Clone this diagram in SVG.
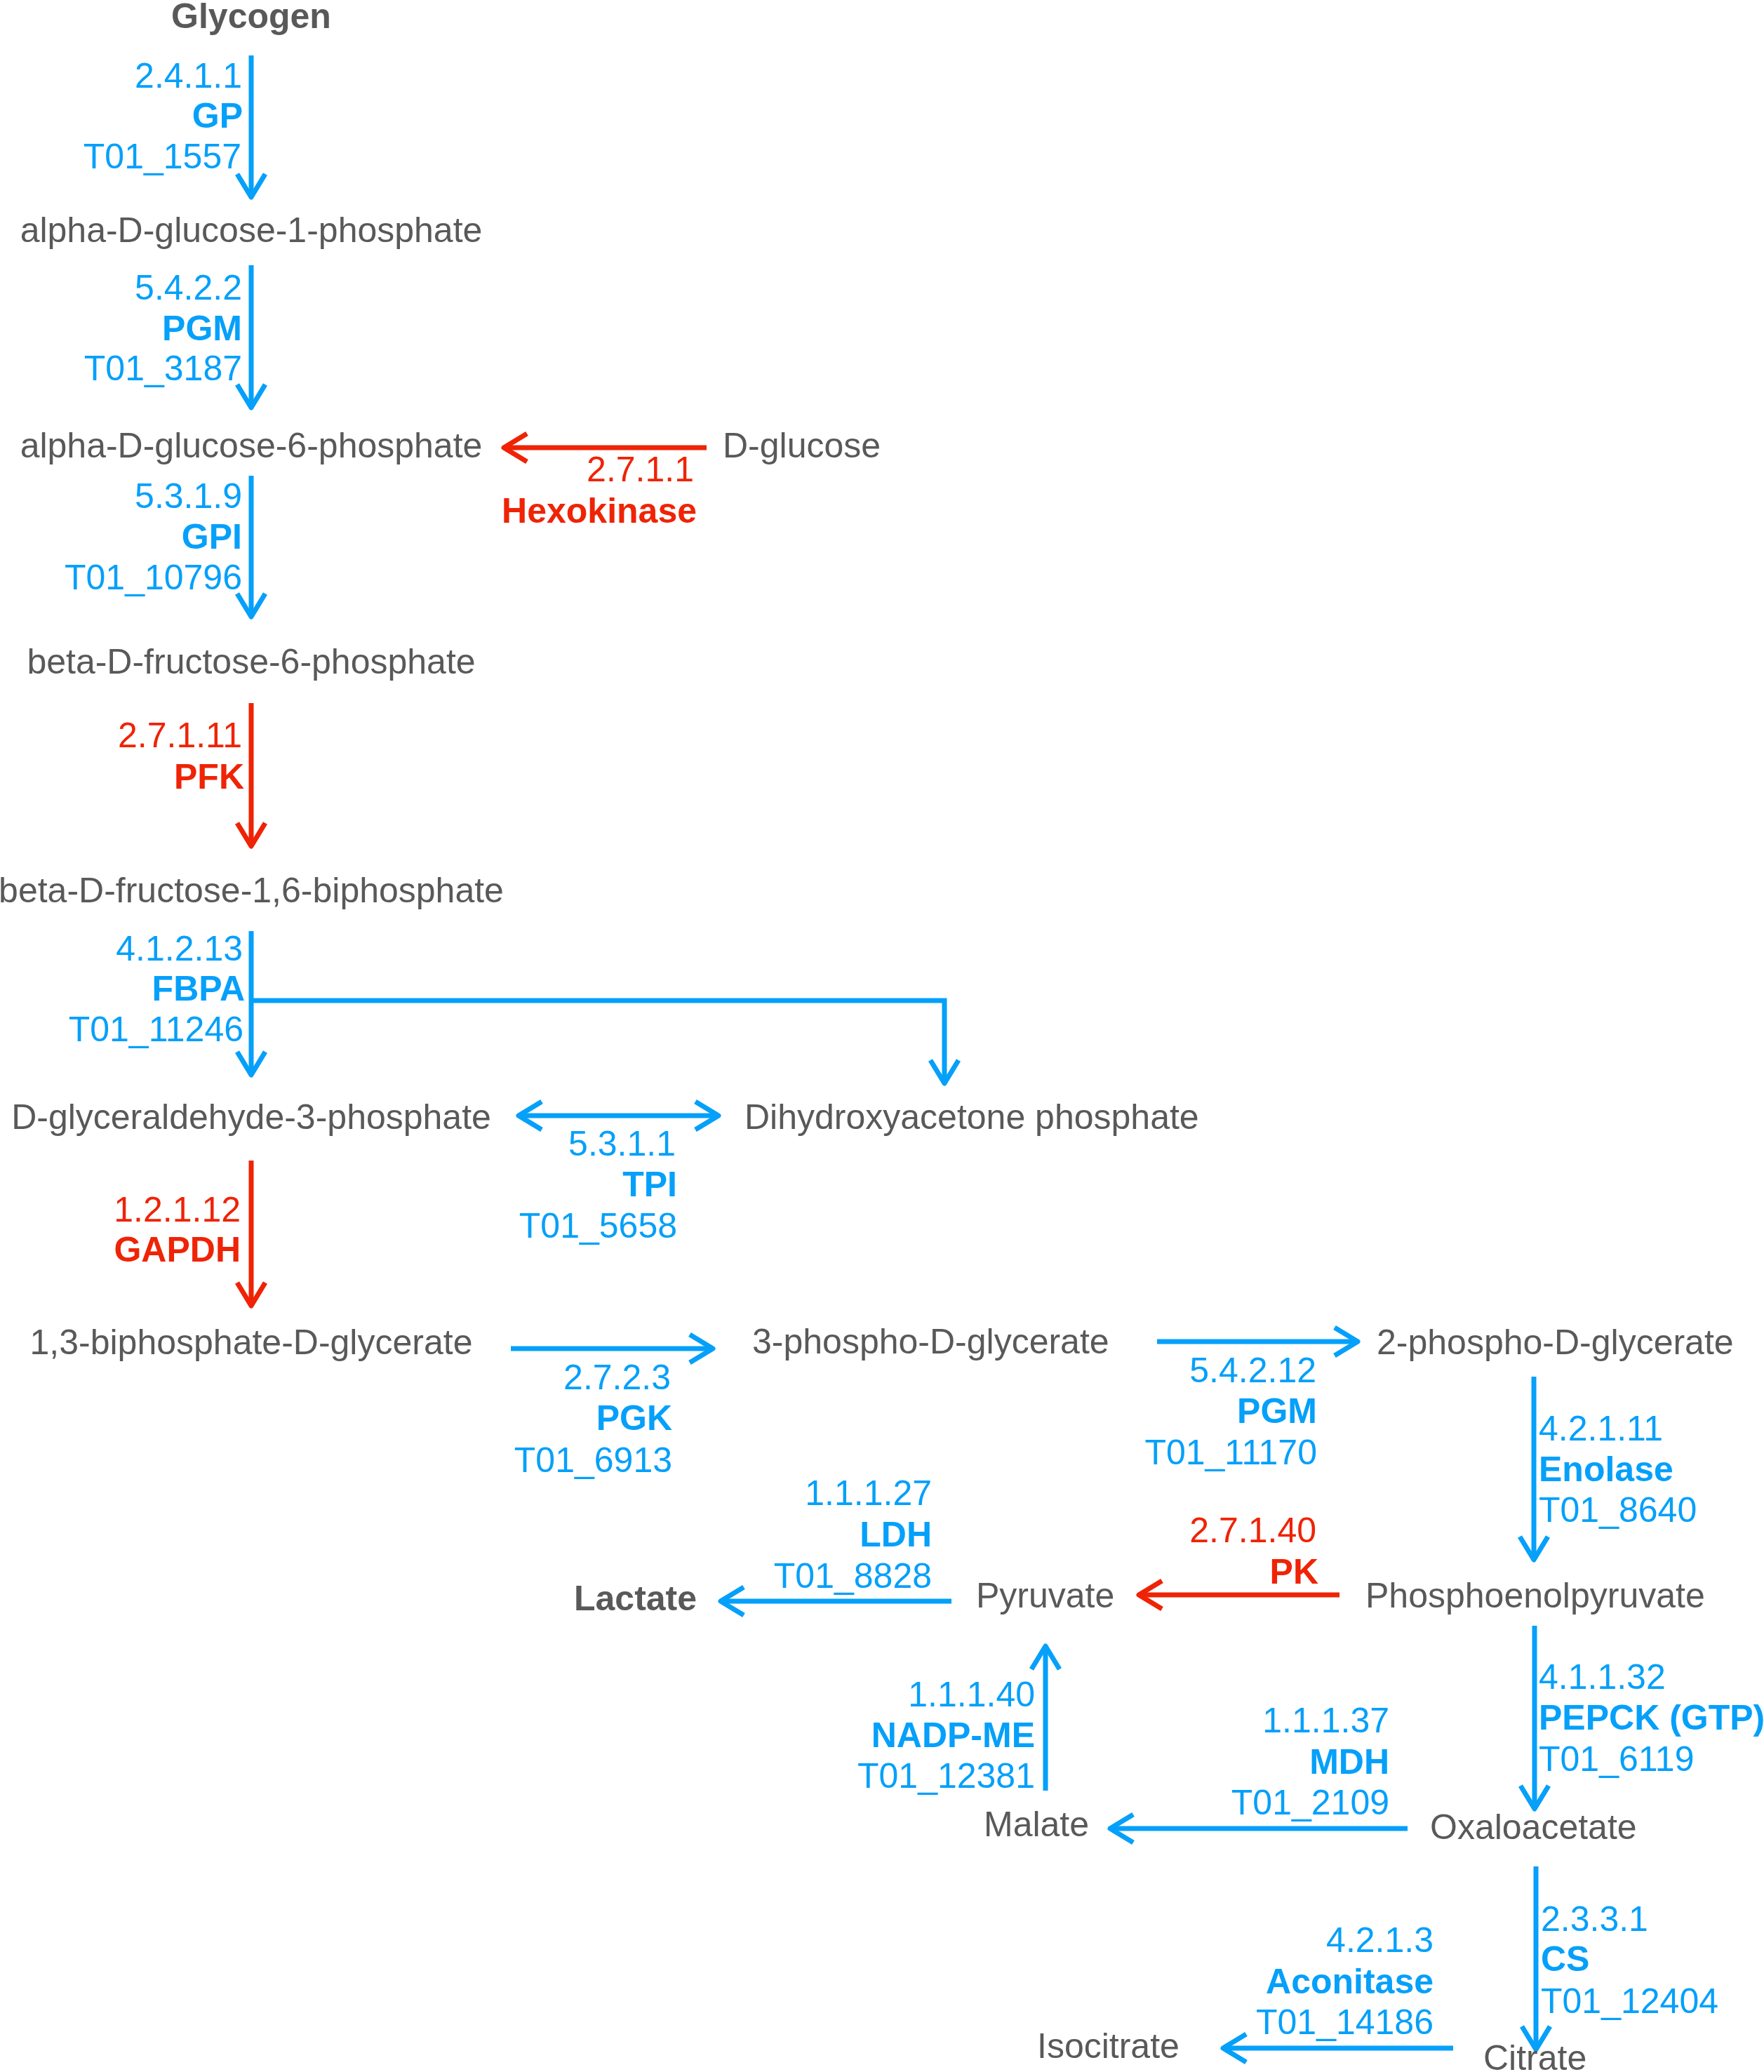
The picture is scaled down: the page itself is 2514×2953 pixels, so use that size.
<svg xmlns="http://www.w3.org/2000/svg" width="2514" height="2953" viewBox="0 0 2514 2953">
<style>
text{font-family:"Liberation Sans",Arial,sans-serif;font-size:50px}
.m{fill:#595959}
.b{fill:#05a0fa}
.r{fill:#ef2305}
.bd{font-weight:bold}
.e{text-anchor:end}
.c{text-anchor:middle}
.lb{fill:none;stroke:#05a0fa;stroke-width:7}
.lr{fill:none;stroke:#ef2305;stroke-width:7}
</style>
<defs>
<marker id="ab" markerUnits="userSpaceOnUse" viewBox="-45 -30 55 60" refX="0" refY="0" markerWidth="55" markerHeight="60" orient="auto-start-reverse">
<path d="M-33,-20 L0,0 L-33,20" fill="none" stroke="#05a0fa" stroke-width="7" stroke-linejoin="round"/>
</marker>
<marker id="ar" markerUnits="userSpaceOnUse" viewBox="-45 -30 55 60" refX="0" refY="0" markerWidth="55" markerHeight="60" orient="auto">
<path d="M-33,-20 L0,0 L-33,20" fill="none" stroke="#ef2305" stroke-width="7" stroke-linejoin="round"/>
</marker>
</defs>
<rect width="2514" height="2953" fill="#fff"/>
<g id="connectors">
<path class="lb" d="M358,79 V281" marker-end="url(#ab)"/>
<path class="lb" d="M358,378 V581" marker-end="url(#ab)"/>
<path class="lb" d="M358,678 V879" marker-end="url(#ab)"/>
<path class="lr" d="M358,1002 V1206" marker-end="url(#ar)"/>
<path class="lb" d="M358,1327 V1532" marker-end="url(#ab)"/>
<path class="lb" d="M358,1426 H1346 V1544" marker-end="url(#ab)"/>
<path class="lr" d="M1007,638 H718" marker-end="url(#ar)"/>
<path class="lb" d="M739,1590 H1024" marker-start="url(#ab)" marker-end="url(#ab)"/>
<path class="lr" d="M358,1654 V1861" marker-end="url(#ar)"/>
<path class="lb" d="M728,1922 H1016" marker-end="url(#ab)"/>
<path class="lb" d="M1649,1912 H1935" marker-end="url(#ab)"/>
<path class="lb" d="M2186,1962 V2223" marker-end="url(#ab)"/>
<path class="lr" d="M1909,2273 H1623" marker-end="url(#ar)"/>
<path class="lb" d="M1356,2282 H1027" marker-end="url(#ab)"/>
<path class="lb" d="M1490,2552 V2346" marker-end="url(#ab)"/>
<path class="lb" d="M2187,2317 V2578" marker-end="url(#ab)"/>
<path class="lb" d="M2006,2606 H1582" marker-end="url(#ab)"/>
<path class="lb" d="M2189,2660 V2921" marker-end="url(#ab)"/>
<path class="lb" d="M2071,2919 H1743" marker-end="url(#ab)"/>
</g>
<g id="glycogen"><text class="m bd c" x="358" y="40">Glycogen</text></g>
<g id="g1p"><text class="m c" x="358" y="345">alpha-D-glucose-1-phosphate</text></g>
<g id="g6p"><text class="m c" x="358" y="652">alpha-D-glucose-6-phosphate</text></g>
<g id="glucose"><text class="m" x="1030" y="652">D-glucose</text></g>
<g id="f6p"><text class="m c" x="358" y="960">beta-D-fructose-6-phosphate</text></g>
<g id="f16bp"><text class="m c" x="358" y="1286">beta-D-fructose-1,6-biphosphate</text></g>
<g id="gap"><text class="m c" x="358" y="1609">D-glyceraldehyde-3-phosphate</text></g>
<g id="dhap"><text class="m" x="1061" y="1609">Dihydroxyacetone phosphate</text></g>
<g id="bpg"><text class="m c" x="358" y="1930">1,3-biphosphate-D-glycerate</text></g>
<g id="pg3"><text class="m" x="1072" y="1929">3-phospho-D-glycerate</text></g>
<g id="pg2"><text class="m" x="1962" y="1930">2-phospho-D-glycerate</text></g>
<g id="pep"><text class="m" x="1946" y="2291">Phosphoenolpyruvate</text></g>
<g id="pyruvate"><text class="m" x="1391" y="2291">Pyruvate</text></g>
<g id="lactate"><text class="m bd" x="818" y="2295">Lactate</text></g>
<g id="malate"><text class="m" x="1402" y="2617">Malate</text></g>
<g id="oaa"><text class="m" x="2038" y="2621">Oxaloacetate</text></g>
<g id="citrate"><text class="m" x="2114" y="2950">Citrate</text></g>
<g id="isocitrate"><text class="m" x="1478" y="2933">Isocitrate</text></g>
<g id="lbl-gp"><text class="b e" x="345" y="125">2.4.1.1</text><text class="b e bd" x="346" y="182">GP</text><text class="b e" x="344" y="240">T01_1557</text></g>
<g id="lbl-pgm1"><text class="b e" x="345" y="427">5.4.2.2</text><text class="b e bd" x="345" y="485">PGM</text><text class="b e" x="345" y="542">T01_3187</text></g>
<g id="lbl-gpi"><text class="b e" x="345" y="724">5.3.1.9</text><text class="b e bd" x="345" y="782">GPI</text><text class="b e" x="345" y="840">T01_10796</text></g>
<g id="lbl-pfk"><text class="r e" x="345" y="1065">2.7.1.11</text><text class="r e bd" x="348" y="1124">PFK</text></g>
<g id="lbl-fbpa"><text class="b e" x="346" y="1369">4.1.2.13</text><text class="b e bd" x="349" y="1426">FBPA</text><text class="b e" x="347" y="1484">T01_11246</text></g>
<g id="lbl-gapdh"><text class="r e" x="343" y="1741">1.2.1.12</text><text class="r e bd" x="343" y="1798">GAPDH</text></g>
<g id="lbl-hk"><text class="r e" x="989" y="686">2.7.1.1</text><text class="r e bd" x="993" y="745">Hexokinase</text></g>
<g id="lbl-tpi"><text class="b e" x="963" y="1647">5.3.1.1</text><text class="b e bd" x="965" y="1705">TPI</text><text class="b e" x="965" y="1764">T01_5658</text></g>
<g id="lbl-pgk"><text class="b e" x="956" y="1980">2.7.2.3</text><text class="b e bd" x="958" y="2038">PGK</text><text class="b e" x="958" y="2098">T01_6913</text></g>
<g id="lbl-pgm2"><text class="b e" x="1876" y="1970">5.4.2.12</text><text class="b e bd" x="1877" y="2028">PGM</text><text class="b e" x="1877" y="2087">T01_11170</text></g>
<g id="lbl-eno"><text class="b" x="2193" y="2053">4.2.1.11</text><text class="b bd" x="2193" y="2111">Enolase</text><text class="b" x="2193" y="2169">T01_8640</text></g>
<g id="lbl-pk"><text class="r e" x="1876" y="2198">2.7.1.40</text><text class="r e bd" x="1879" y="2257">PK</text></g>
<g id="lbl-ldh"><text class="b e" x="1328" y="2145">1.1.1.27</text><text class="b e bd" x="1328" y="2204">LDH</text><text class="b e" x="1328" y="2263">T01_8828</text></g>
<g id="lbl-me"><text class="b e" x="1475" y="2432">1.1.1.40</text><text class="b e bd" x="1475" y="2490">NADP-ME</text><text class="b e" x="1475" y="2548">T01_12381</text></g>
<g id="lbl-pepck"><text class="b" x="2193" y="2407">4.1.1.32</text><text class="b bd" x="2193" y="2465">PEPCK (GTP)</text><text class="b" x="2193" y="2524">T01_6119</text></g>
<g id="lbl-mdh"><text class="b e" x="1980" y="2469">1.1.1.37</text><text class="b e bd" x="1980" y="2528">MDH</text><text class="b e" x="1980" y="2586">T01_2109</text></g>
<g id="lbl-cs"><text class="b" x="2196" y="2752">2.3.3.1</text><text class="b bd" x="2196" y="2809">CS</text><text class="b" x="2196" y="2869">T01_12404</text></g>
<g id="lbl-aco"><text class="b e" x="2043" y="2782">4.2.1.3</text><text class="b e bd" x="2043" y="2841">Aconitase</text><text class="b e" x="2043" y="2899">T01_14186</text></g>
</svg>
